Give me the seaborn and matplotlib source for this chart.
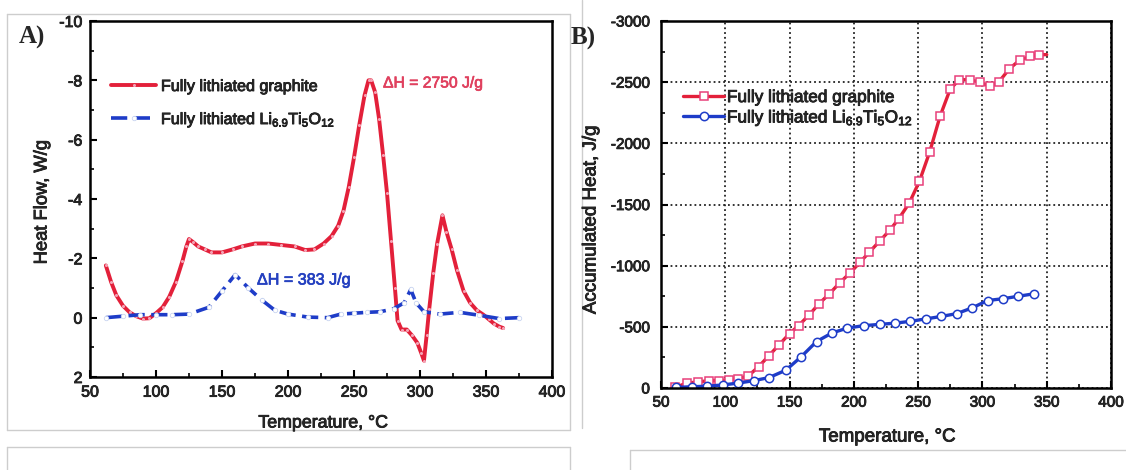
import matplotlib
matplotlib.use("Agg")
import matplotlib.pyplot as plt
import matplotlib.patheffects as pe
import seaborn as sns
import pandas as pd
from matplotlib.ticker import MultipleLocator
from matplotlib.lines import Line2D

# ---------------- data ----------------
# Panel A: DSC heat flow (W/g), exothermic negative
a_graphite_T = [62, 66, 70, 75, 80, 85, 90, 95, 100, 105, 110, 115, 120, 123, 125, 128, 132,
                137, 142, 150, 158, 165, 175, 185, 195, 205, 213, 220, 227, 233, 238, 242,
                246, 250, 254, 258, 261, 263, 266, 269, 272, 275, 278, 281, 283, 286, 290,
                294, 298, 301, 303, 305, 307, 310, 313, 317, 320, 324, 328, 333, 338, 343,
                348, 352, 356, 360, 363]
a_graphite_hf = [-1.76, -1.2, -0.75, -0.4, -0.18, -0.05, 0.03, 0.02, -0.15, -0.35, -0.7, -1.2,
                 -1.9, -2.4, -2.65, -2.55, -2.4, -2.3, -2.2, -2.2, -2.3, -2.4, -2.5, -2.5,
                 -2.45, -2.4, -2.28, -2.3, -2.5, -2.75, -3.1, -3.6, -4.4, -5.4, -6.5, -7.5,
                 -8.0, -8.0, -7.6, -6.7, -5.5, -4.2, -2.6, -1.0, 0.1, 0.4, 0.4, 0.6, 0.85,
                 1.2, 1.45, 0.6, -0.3, -1.5, -2.5, -3.45, -2.9, -2.3, -1.6, -0.9, -0.5,
                 -0.25, -0.1, 0.05, 0.2, 0.3, 0.35]
a_lto_T = [62, 75, 88, 100, 112, 125, 140, 150, 160, 170, 180, 190, 200, 215, 230, 240,
           250, 260, 270, 280, 288, 293, 297, 303, 315, 330, 345, 360, 375]
a_lto_hf = [0.0, -0.05, -0.1, -0.1, -0.1, -0.12, -0.35, -0.9, -1.45, -1.0, -0.6, -0.25,
            -0.12, -0.02, 0.0, -0.12, -0.15, -0.18, -0.2, -0.3, -0.5, -0.95, -0.5, -0.2,
            -0.12, -0.18, -0.08, 0.03, 0.0]

# Panel B: accumulated heat (J/g), exothermic negative
b_graphite_T = [61, 70, 79, 87, 95, 103, 110, 118, 126, 134, 142, 150, 157, 165, 173, 181,
                189, 197, 205, 212, 220, 228, 235, 243, 251, 259, 267, 275, 282, 290, 298,
                306, 313, 321, 329, 337, 344, 350]
b_graphite_q = [-5, -40, -50, -60, -60, -65, -75, -100, -175, -265, -355, -445, -510, -595,
                -690, -770, -860, -940, -1030, -1110, -1200, -1290, -1385, -1510, -1690,
                -1930, -2220, -2445, -2520, -2520, -2500, -2465, -2505, -2610, -2680, -2710,
                -2725, -2725]
b_lto_T = [62, 74, 86, 98, 110, 122, 134, 147, 159, 171, 183, 195, 208, 220, 232, 244, 256,
           268, 280, 292, 304, 316, 328, 340]
b_lto_q = [-5, -10, -15, -25, -40, -60, -85, -145, -255, -380, -450, -490, -510, -520, -530,
           -545, -565, -585, -608, -655, -715, -730, -750, -770]

x_ticks = [50, 100, 150, 200, 250, 300, 350, 400]
a_y_ticks = [-10, -8, -6, -4, -2, 0, 2]
b_y_ticks = [-3000, -2500, -2000, -1500, -1000, -500, 0]

label_graphite = "Fully lithiated graphite"
label_lto = "Fully lithiated Li$_{6.9}$Ti$_{5}$O$_{12}$"
annot_graphite = "\u0394H = 2750 J/g"
annot_lto = "\u0394H = 383 J/g"

# ---------------- style ----------------
sns.set_style("ticks")
plt.rcParams["font.family"] = ["Liberation Sans", "DejaVu Sans"]
plt.rcParams["mathtext.fontset"] = "custom"
plt.rcParams["mathtext.rm"] = "Liberation Sans"
plt.rcParams["mathtext.default"] = "regular"
plt.rcParams["axes.unicode_minus"] = False
plt.rcParams["xtick.direction"] = "in"
plt.rcParams["ytick.direction"] = "in"

RED = "#e3203a"
BLUE = "#1e3cc8"
THICK = [pe.withStroke(linewidth=0.6, foreground="#111111")]

W, H = 1126, 470
fig = plt.figure(figsize=(W / 100, H / 100), dpi=100)


def fx(x):
    return x / W


def fy(y):
    return 1 - y / H


def ax_rect(l, t, r, b):
    return [fx(l), fy(b), (r - l) / W, (b - t) / H]


axA = fig.add_axes(ax_rect(90, 21, 552, 377))
axB = fig.add_axes(ax_rect(661, 21, 1111, 388))

dfA_g = pd.DataFrame({"T": a_graphite_T, "v": a_graphite_hf})
dfA_l = pd.DataFrame({"T": a_lto_T, "v": a_lto_hf})
dfB_g = pd.DataFrame({"T": b_graphite_T, "v": b_graphite_q})
dfB_l = pd.DataFrame({"T": b_lto_T, "v": b_lto_q})

# Panel A
sns.lineplot(data=dfA_g, x="T", y="v", ax=axA, color=RED, lw=2.8, label=label_graphite,
             marker="o", ms=2.2, mfc="#f5a3b5", mec="none", errorbar=None)
sns.lineplot(data=dfA_l, x="T", y="v", ax=axA, color=BLUE, lw=2.6, label=label_lto,
             marker="o", ms=3.2, mfc="white", mec="#c8d4f0", mew=0.6, errorbar=None)
axA.lines[-1].set_dashes([4.5, 1.8])

axA.set_xlim(50, 400)
axA.set_ylim(2, -10)
axA.set_xticks(x_ticks)
axA.set_yticks(a_y_ticks)
axA.xaxis.set_minor_locator(MultipleLocator(25))
axA.yaxis.set_minor_locator(MultipleLocator(1))
axA.set_xlabel("")
axA.set_ylabel("")
axA.text(272, -7.91, annot_graphite, color="#e0405e", fontsize=11.3, ha="left", va="center",
         path_effects=[pe.withStroke(linewidth=0.5, foreground="#e0405e")])
axA.text(176.5, -1.27, annot_lto, color="#2440c0", fontsize=11.6, ha="left", va="center",
         path_effects=[pe.withStroke(linewidth=0.5, foreground="#2440c0")])

legA = axA.legend(loc="upper left", bbox_to_anchor=((111 - 90) / 462, (377 - 79) / 356),
                  frameon=False, fontsize=11.6, handlelength=2.8, handletextpad=0.3,
                  labelspacing=1.0, borderpad=0, borderaxespad=0)

# Panel B
sns.lineplot(data=dfB_g, x="T", y="v", ax=axB, color=RED, lw=2.4, label=label_graphite,
             marker="s", ms=5.5, mfc="white", mec="#e8407a", mew=1.1,
             markevery=slice(0, len(b_graphite_T) - 1), errorbar=None)
sns.lineplot(data=dfB_l, x="T", y="v", ax=axB, color=BLUE, lw=2.4, label=label_lto,
             marker="o", ms=6, mfc="white", mec=BLUE, mew=1.1, errorbar=None)

axB.set_xlim(50, 400)
axB.set_ylim(0, -3000)
axB.set_xticks(x_ticks)
axB.set_yticks(b_y_ticks)
axB.xaxis.set_minor_locator(MultipleLocator(25))
axB.yaxis.set_minor_locator(MultipleLocator(250))
axB.set_xlabel("")
axB.set_ylabel("")
axB.grid(True, which="major", ls=":", color="#222222", lw=1.3)

legB = axB.legend(loc="upper left", bbox_to_anchor=((683 - 661) / 450, (388 - 90) / 367),
                  frameon=False, fontsize=12.4, handlelength=2.4, handletextpad=0.15,
                  labelspacing=0.2, borderpad=0, borderaxespad=0)

for leg in (legA, legB):
    for t in leg.get_texts():
        t.set_path_effects(THICK)

for ax, lsize, ypad in ((axA, 11.5, 5.5), (axB, 11, 8)):
    for s in ax.spines.values():
        s.set_visible(True)
        s.set_linewidth(1.8)
        s.set_color("black")
    ax.tick_params(which="major", length=5, width=1.5, labelsize=lsize, color="black")
    ax.tick_params(which="minor", length=3, width=1.2, color="black")
    ax.tick_params(axis="y", which="major", pad=ypad)
    ax.tick_params(axis="x", which="major", pad=5.5)
    ax.set_axisbelow(True)
    for lab in ax.get_xticklabels() + ax.get_yticklabels():
        lab.set_path_effects(THICK)

# axis titles
for (x, y, s, rot, fs) in ((42, 202, "Heat Flow, W/g", 90, 13.2),
                           (323, 423, "Temperature, \u00b0C", 0, 12.8),
                           (591, 220, "Accumulated Heat, J/g", 90, 13.5),
                           (887, 437, "Temperature, \u00b0C", 0, 13.5)):
    fig.text(fx(x), fy(y), s, rotation=rot, ha="center", va="center", fontsize=fs,
             path_effects=THICK)

# panel letters
fig.text(fx(19), fy(37), "A)", family="Liberation Serif", weight="bold", fontsize=18,
         ha="left", va="center")
fig.text(fx(571), fy(38), "B)", family="Liberation Serif", weight="bold", fontsize=18,
         ha="left", va="center")

# light page frames
GRAY = "#cdcdcd"


def seg(x0, y0, x1, y1):
    fig.add_artist(Line2D([fx(x0), fx(x1)], [fy(y0), fy(y1)], transform=fig.transFigure,
                          color=GRAY, lw=1.0))


seg(7, 14, 570, 14)
seg(7, 14, 7, 430)
seg(7, 430, 570, 430)
seg(570, 14, 570, 430)
seg(7, 447, 570, 447)
seg(7, 447, 7, 471)
seg(570, 447, 570, 471)
seg(582, 0, 582, 428)
seg(630, 450, 1127, 450)
seg(630, 450, 630, 471)

fig.savefig("out.png", dpi=100)
